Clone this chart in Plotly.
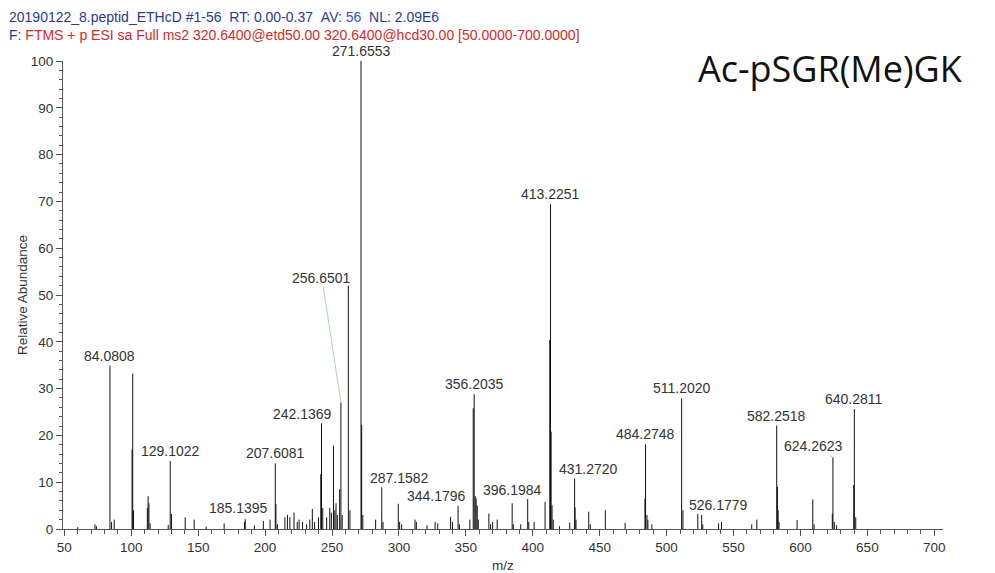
import plotly.graph_objects as go

# ---------------- data ----------------
peak_mz = [60.0, 72.9, 74.0, 84.0808, 85.3, 87.3, 100.6, 101.1, 101.7, 112.0, 112.6, 113.2, 114.1,
           127.6, 129.1022, 130.1, 140.3, 147.0, 156.0, 169.4, 184.6, 185.1395, 192.0, 198.7, 203.7,
           207.6081, 208.1, 209.2, 214.8, 216.7, 218.5, 221.6, 224.0, 225.4, 228.0, 231.0, 233.4,
           235.3, 237.0, 239.9, 241.6, 242.1369, 243.1, 246.0, 248.3, 249.5, 251.1, 252.1, 253.0,
           254.0, 255.7, 256.6501, 257.6, 262.2, 263.4, 271.6553, 272.16, 273.0, 282.6, 287.1582,
           288.1, 299.5, 300.5, 302.0, 312.0, 313.0, 321.0, 327.0, 329.0, 338.6, 340.0, 344.1796,
           345.2, 353.0, 355.5, 356.2035, 357.0, 357.7, 358.5, 359.3, 367.2, 368.5, 370.0, 373.4,
           384.6, 385.5, 391.0, 396.1984, 397.0, 401.0, 409.2, 412.7, 413.2251, 413.7, 414.4, 415.3,
           420.0, 427.6, 431.2720, 431.6, 432.3, 441.8, 443.0, 454.2, 469.0, 483.8, 484.2748, 485.3,
           486.0, 489.0, 511.2020, 512.2, 523.3, 526.1779, 527.0, 538.8, 541.0, 563.6, 567.4,
           582.2518, 582.8, 583.3, 584.0, 597.5, 609.2, 610.2, 623.8, 624.2623, 625.3, 627.0,
           639.8, 640.2811, 641.3]
peak_int = [0.4, 1.0, 0.6, 34.9, 1.5, 2.0, 17.0, 33.2, 4.0, 4.5, 7.0, 5.5, 1.2,
            0.9, 14.5, 3.2, 2.5, 2.0, 0.5, 1.2, 1.5, 2.1, 0.8, 1.7, 2.0,
            14.0, 5.3, 1.0, 2.5, 3.0, 2.5, 3.5, 1.5, 2.0, 1.5, 1.0, 2.0,
            4.3, 1.5, 2.5, 11.7, 22.6, 4.5, 2.5, 4.5, 3.5, 17.8, 4.0, 5.5,
            3.0, 8.5, 27.0, 3.0, 52.0, 4.0, 100.0, 22.2, 3.0, 2.0, 8.9,
            1.5, 5.4, 1.5, 1.0, 2.0, 1.5, 0.8, 1.5, 1.2, 2.6, 1.5, 4.9,
            1.0, 2.0, 25.8, 28.8, 7.0, 6.5, 5.0, 2.0, 3.3, 1.0, 1.5, 2.0,
            5.5, 1.0, 1.0, 6.4, 1.5, 1.5, 5.8, 40.4, 69.4, 20.8, 5.1, 2.0,
            0.6, 1.4, 10.8, 4.6, 2.0, 3.7, 1.0, 4.0, 1.3, 6.5, 18.1, 3.0,
            2.0, 1.0, 27.9, 4.0, 3.2, 3.0, 1.0, 1.2, 1.5, 1.0, 2.0,
            22.1, 9.0, 4.0, 1.5, 1.9, 6.3, 1.0, 3.3, 15.3, 1.5, 0.8,
            9.4, 25.6, 2.5]

label_mz = [84.0808, 129.1022, 185.1395, 207.6081, 242.1369, 256.6501, 271.6553, 287.1582,
            344.1796, 356.2035, 396.1984, 413.2251, 431.2720, 484.2748, 511.2020, 526.1779,
            582.2518, 624.2623, 640.2811]

x_ticks = [50, 100, 150, 200, 250, 300, 350, 400, 450, 500, 550, 600, 650, 700]
y_ticks = [0, 10, 20, 30, 40, 50, 60, 70, 80, 90, 100]

header1 = ('<span style="color:#2b3a8f">20190122_8.peptid_ETHcD #1-56&nbsp;&nbsp;RT: 0.00-0.37'
           '&nbsp;&nbsp;AV: </span><span style="color:#3050d0">56</span>'
           '<span style="color:#2b3a8f">&nbsp;&nbsp;NL: 2.09E6</span>')
header2 = ('<span style="color:#2b3a8f">F: </span><span style="color:#d42a2a">FTMS + p ESI sa Full ms2 '
           '320.6400@etd50.00 320.6400@hcd30.00 [50.0000-700.0000]</span>')
peptide = "Ac-pSGR(Me)GK"

# label offsets (pixels) for labels drawn with a leader line; others are centred above
leader_offsets = {185.1395: (-7, -11), 242.1369: (-19, -9), 256.6501: (-19, -125),
                  287.1582: (18, -9), 344.1796: (-22, -10), 396.1984: (-15, -9),
                  431.2720: (14, -9), 526.1779: (17, -10), 624.2623: (-19, -11)}

# ---------------- figure ----------------
xs, ys = [], []
for m, v in zip(peak_mz, peak_int):
    xs += [m, m, None]
    ys += [0, v, None]

fig = go.Figure()
fig.add_trace(go.Scatter(x=xs, y=ys, mode="lines", line=dict(color="#111111", width=1),
                         hoverinfo="skip", showlegend=False))

FONT = "Liberation Sans, Arial, sans-serif"
lab_font = dict(family=FONT, size=14, color="#333333")
annotations = []
for m in label_mz:
    v = peak_int[peak_mz.index(m)]
    txt = f"{m:.4f}"
    if m in leader_offsets:
        ax, ay = leader_offsets[m]
        annotations.append(dict(x=m, y=v, xref="x", yref="y", text=txt, showarrow=True,
                                ax=ax, ay=ay, arrowhead=0, arrowwidth=0.8,
                                arrowcolor="#8fd08f", standoff=0, font=lab_font))
    else:
        annotations.append(dict(x=m, y=v, xref="x", yref="y", text=txt, showarrow=False,
                                yanchor="middle", yshift=10, font=lab_font))

hdr_font = dict(family=FONT, size=14)
title_font = dict(family=FONT, size=13.5, color="#333333")
annotations += [
    dict(x=0, y=1, xref="paper", yref="paper", text=header1, showarrow=False,
         xanchor="left", yanchor="middle", xshift=-56, yshift=44, font=hdr_font),
    dict(x=0, y=1, xref="paper", yref="paper", text=header2, showarrow=False,
         xanchor="left", yanchor="middle", xshift=-56, yshift=26, font=hdr_font),
    dict(x=0.872, y=0.985, xref="paper", yref="paper", text=peptide, showarrow=False,
         xanchor="center", yanchor="middle",
         font=dict(family="Open Sans, sans-serif", size=36, color="#111111")),
    dict(x=0.5, y=0, xref="paper", yref="paper", text="m/z", showarrow=False,
         xanchor="center", yanchor="middle", yshift=-36, font=title_font),
    dict(x=0, y=0.5, xref="paper", yref="paper", text="Relative Abundance", showarrow=False,
         textangle=-90, xanchor="center", yanchor="middle", xshift=-41, font=title_font),
]

axis_common = dict(showgrid=False, zeroline=False, showline=True, linecolor="#555555",
                   linewidth=1, ticks="outside", tickcolor="#555555", tickwidth=1,
                   tickfont=dict(family=FONT, size=13.5, color="#333333"))

fig.update_layout(
    width=995, height=573, autosize=False,
    margin=dict(l=63, r=52, t=61, b=44),
    paper_bgcolor="white", plot_bgcolor="white",
    annotations=annotations,
    xaxis=dict(range=[49, 706.5], tickvals=x_ticks, ticklen=6,
               minor=dict(dtick=10, tick0=50, ticklen=4, ticks="outside", tickcolor="#555555"),
               **axis_common),
    yaxis=dict(range=[0, 100], tickvals=y_ticks, ticklen=6,
               minor=dict(dtick=2, tick0=0, ticklen=3.5, ticks="outside", tickcolor="#555555"),
               **axis_common),
)

fig.write_html("out.html")
